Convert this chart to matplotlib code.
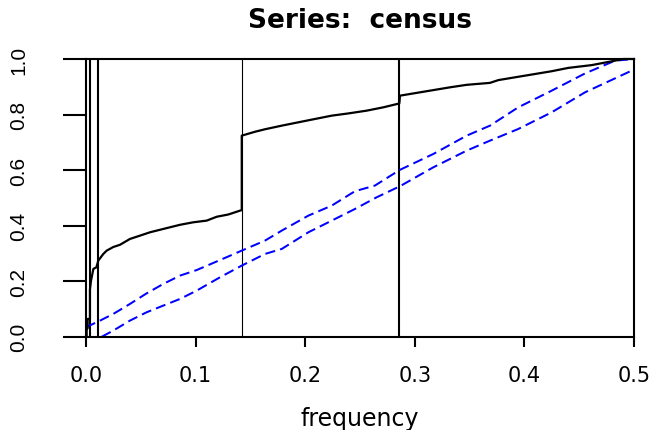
import numpy as np
import matplotlib
matplotlib.use('Agg')
import matplotlib.pyplot as plt

# cumulative periodogram of the census series (repeated x = jump)
freq = [0.0, 0.0006, 0.0006, 0.0015, 0.0015, 0.0036, 0.0036, 0.0045, 0.0067, 0.0095,
        0.0112, 0.0158, 0.0189, 0.0249, 0.0310, 0.0401, 0.0493, 0.0584, 0.0705, 0.0858,
        0.0979, 0.1101, 0.1193, 0.1298, 0.1421, 0.1421, 0.1542, 0.1633, 0.1786, 0.1937,
        0.2089, 0.2242, 0.2393, 0.2561, 0.2713, 0.2859, 0.2865, 0.3017, 0.3169, 0.3321,
        0.3473, 0.3686, 0.3762, 0.3944, 0.4097, 0.4249, 0.4401, 0.4614, 0.4827, 0.4900,
        0.5]
cum_pgram = [0.0, 0.0, 0.030, 0.030, 0.064, 0.064, 0.170, 0.200, 0.244, 0.250,
             0.274, 0.298, 0.310, 0.323, 0.331, 0.352, 0.364, 0.376, 0.388, 0.403,
             0.412, 0.418, 0.432, 0.440, 0.456, 0.724, 0.738, 0.747, 0.760, 0.772,
             0.784, 0.796, 0.804, 0.814, 0.826, 0.840, 0.868, 0.878, 0.888, 0.898,
             0.907, 0.914, 0.924, 0.936, 0.946, 0.956, 0.968, 0.978, 0.994, 1.0,
             1.0]

# Kolmogorov-Smirnov confidence band
band_x = [0.0, 0.0128, 0.0249, 0.0401, 0.0553, 0.0705, 0.0858, 0.1010, 0.1223, 0.1421,
          0.1633, 0.1786, 0.2029, 0.2242, 0.2454, 0.2635, 0.2865, 0.3169, 0.3473, 0.3686,
          0.3944, 0.4249, 0.4553, 0.4827, 0.5]
band_hi = [0.034, 0.058, 0.082, 0.118, 0.156, 0.190, 0.220, 0.240, 0.276, 0.310,
           0.346, 0.382, 0.436, 0.472, 0.524, 0.544, 0.601, 0.658, 0.724, 0.760,
           0.826, 0.886, 0.948, 0.994, 1.0]
band_lo_x = [0.0144, 0.0249, 0.0401, 0.0553, 0.0705, 0.0858, 0.1010, 0.1223, 0.1421,
             0.1633, 0.1786, 0.2029, 0.2242, 0.2454, 0.2652, 0.2865, 0.3169, 0.3473,
             0.3686, 0.3944, 0.4249, 0.4553, 0.4978]
band_lo = [0.0, 0.022, 0.058, 0.088, 0.112, 0.136, 0.166, 0.214, 0.256,
           0.298, 0.316, 0.376, 0.418, 0.460, 0.502, 0.542, 0.610, 0.670,
           0.706, 0.748, 0.808, 0.880, 0.958]

# marked frequencies
vlines = [0.0036, 0.0107, 0.1427, 0.2857]
vline_w = [1.5, 1.5, 0.8, 1.5]

xticks = [0.0, 0.1, 0.2, 0.3, 0.4, 0.5]
yticks = [0.0, 0.2, 0.4, 0.6, 0.8, 1.0]

fig = plt.figure(figsize=(6.61, 4.31), dpi=100)
ax = fig.add_axes([86/661, 1-337.7/431, 548/661, 277.7/431])

ax.plot(freq, cum_pgram, color='black', lw=1.6, clip_on=False, zorder=3)
ax.plot(band_x, band_hi, color='#0000ff', lw=1.45, linestyle=(0, (5, 2.6)), zorder=2)
ax.plot(band_lo_x, band_lo, color='#0000ff', lw=1.45, linestyle=(0, (5, 2.6)), zorder=2)
for v, w in zip(vlines, vline_w):
    ax.axvline(v, color='black', lw=w, zorder=1)

ax.set_xlim(0, 0.5)
ax.set_ylim(0, 1)
for s in ax.spines.values():
    s.set_linewidth(1.5)

ax.set_xticks(xticks)
ax.set_xticklabels(['%.1f' % t for t in xticks], fontsize=15, family='DejaVu Sans')
ax.set_yticks(yticks)
ax.set_yticklabels(['%.1f' % t for t in yticks], fontsize=15, family='Liberation Sans',
                   rotation=90, va='center')
ax.tick_params(axis='x', length=7.5, width=1.5, pad=13)
ax.tick_params(axis='y', length=16.5, width=1.5, pad=25)

ax.set_xlabel('frequency', fontsize=17, family='DejaVu Sans')
ax.xaxis.set_label_coords(0.5, -0.25)
ax.set_title('Series:  census', fontsize=19, fontweight='bold', family='DejaVu Sans', pad=23)

fig.savefig('out.png', dpi=100)
